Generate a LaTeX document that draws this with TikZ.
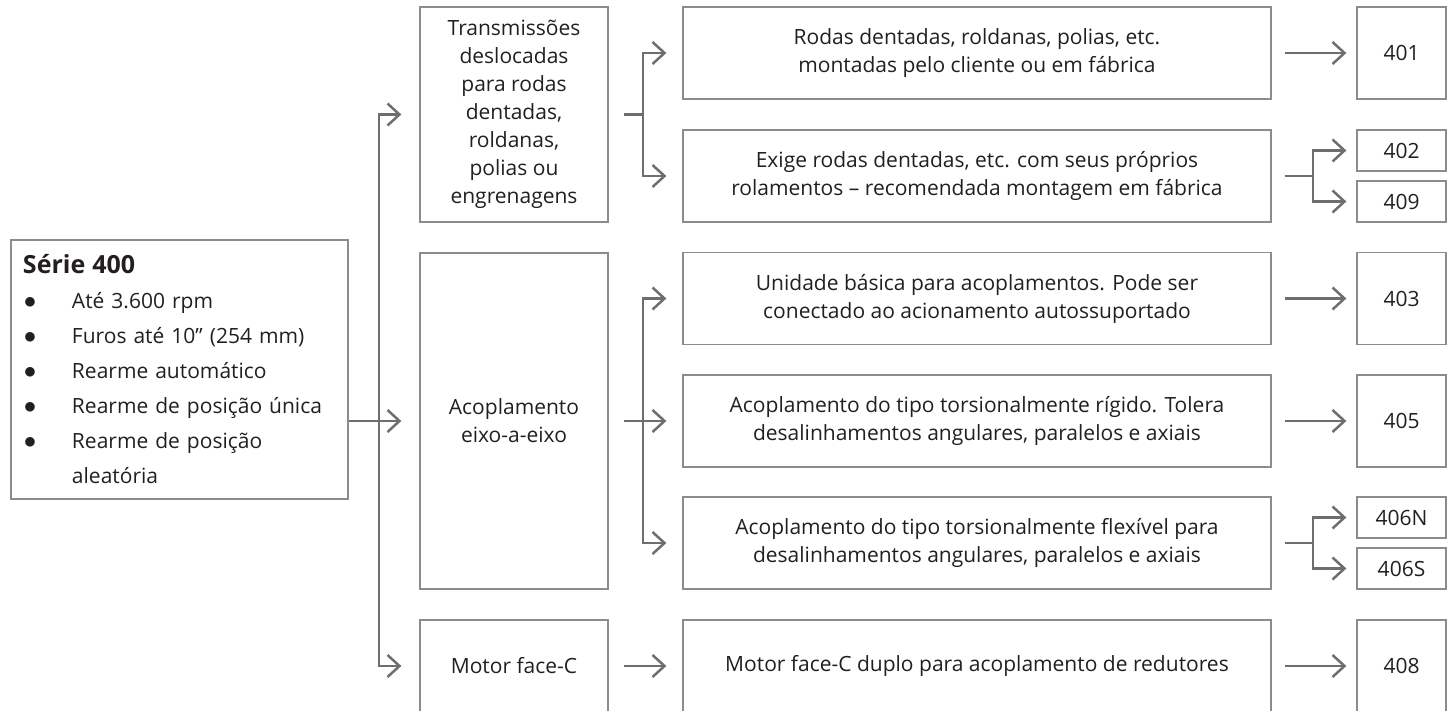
\documentclass[tikz,border=0pt]{standalone}
\usepackage{fontspec}
\setmainfont{Open Sans}
\usetikzlibrary{arrows.meta}
\definecolor{boxgray}{HTML}{8C8C8C}
\definecolor{arrgray}{HTML}{6D6E71}
\definecolor{txt}{HTML}{231F20}
\newcommand{\bul}{\makebox[49pt][l]{\hspace*{1pt}\scalebox{1.2}{$\bullet$}}}

\begin{document}
\begin{tikzpicture}[x=1pt,y=-1pt,
    box/.style={draw=boxgray,line width=1.3pt,align=center,inner sep=0pt,text=txt,
        font=\fontsize{21}{28}\selectfont},
    wide/.style={box,minimum width=588pt,minimum height=92pt},
    small/.style={box,minimum width=89pt,minimum height=92pt},
    half/.style={box,minimum width=89pt,minimum height=41pt},
    lin/.style={draw=arrgray,line width=2.5pt},
    arr/.style={lin,-{Straight Barb[length=12pt,width=22pt,line width=2.5pt]}}]
            \clip (0,0) rectangle (1452,710);
            \node[box,minimum width=337pt,minimum height=259pt,text width=313pt,align=left,
                font=\fontsize{21}{35}\selectfont] (serie) at (179.5,369.5)
                {{\fontsize{25}{35}\selectfont\textbf{Série 400}}\\
                 \bul Até 3.600 rpm\\
                 \bul Furos até 10” (254 mm)\\
                 \bul Rearme automático\\
                 \bul Rearme de posição única\\
                 \bul Rearme de posição\\
                 \hspace*{49pt}aleatória};
            \begin{scope}[every node/.style={box,minimum width=188pt}]
                \node[minimum height=215pt] (trans) at (514,114.5) {Transmissões\\deslocadas\\para rodas\\dentadas,\\roldanas,\\polias ou\\engrenagens};
                \node[minimum height=336pt] (acop) at (514,421) {Acoplamento\\eixo-a-eixo};
                \node[minimum height=92pt] (motor) at (514,666) {Motor face-C};
            \end{scope}
            \node[wide] (rodas) at (977,53) {Rodas dentadas, roldanas, polias, etc.\\montadas pelo cliente ou em fábrica};
            \node[wide] (exige) at (977,176) {Exige rodas dentadas, etc. com seus próprios\\rolamentos -- recomendada montagem em fábrica};
            \node[wide] (unid) at (977,298.5) {Unidade básica para acoplamentos. Pode ser\\conectado ao acionamento autossuportado};
            \node[wide] (rigido) at (977,421) {Acoplamento do tipo torsionalmente rígido. Tolera\\desalinhamentos angulares, paralelos e axiais};
            \node[wide] (flex) at (977,543) {Acoplamento do tipo torsionalmente flexível para\\desalinhamentos angulares, paralelos e axiais};
            \node[wide] (duplo) at (977,666) {Motor face-C duplo para acoplamento de redutores};
            \node[small] (n401) at (1401.5,53) {401};
            \node[half] (n402) at (1401.5,150.5) {402};
            \node[half] (n409) at (1401.5,201.5) {409};
            \node[small] (n403) at (1401.5,298.5) {403};
            \node[small] (n405) at (1401.5,421) {405};
            \node[half] (n406N) at (1401.5,517.5) {406N};
            \node[half] (n406S) at (1401.5,568.5) {406S};
            \node[small] (n408) at (1401.5,666) {408};
            \coordinate (tr) at (379,421);
            \coordinate (ts) at (643,114.5);
            \coordinate (as) at (643,421);
            \coordinate (es) at (1313,176);
            \coordinate (fs) at (1313,543);
            \draw[arr,shorten >=18pt] (serie.east |- tr) -- (acop.west);
            \draw[arr,shorten >=18pt] (tr) |- (trans.west);
            \draw[arr,shorten >=18pt] (tr) |- (motor.west);
            \draw[lin] ([xshift=15pt]trans.east) -- (ts);
            \draw[arr,shorten >=16pt] (ts) |- (rodas.west);
            \draw[arr,shorten >=16pt] (ts) |- (exige.west);
            \draw[lin] ([xshift=15pt]acop.east) -- (as);
            \draw[arr,shorten >=16pt] (as) |- (unid.west);
            \draw[arr,shorten >=16pt] (as) -- (rigido.west);
            \draw[arr,shorten >=16pt] (as) |- (flex.west);
            \draw[arr,shorten >=16pt] ([xshift=15pt]motor.east) -- (duplo.west);
            \draw[arr,shorten >=10pt] ([xshift=13pt]rodas.east) -- (n401.west);
            \draw[lin] ([xshift=13pt]exige.east) -- (es);
            \draw[arr,shorten >=10pt] (es) |- (n402.west);
            \draw[arr,shorten >=10pt] (es) |- (n409.west);
            \draw[arr,shorten >=10pt] ([xshift=13pt]unid.east) -- (n403.west);
            \draw[arr,shorten >=10pt] ([xshift=13pt]rigido.east) -- (n405.west);
            \draw[lin] ([xshift=13pt]flex.east) -- (fs);
            \draw[arr,shorten >=10pt] (fs) |- (n406N.west);
            \draw[arr,shorten >=10pt] (fs) |- (n406S.west);
            \draw[arr,shorten >=10pt] ([xshift=13pt]duplo.east) -- (n408.west);
        \end{tikzpicture}
\end{document}
